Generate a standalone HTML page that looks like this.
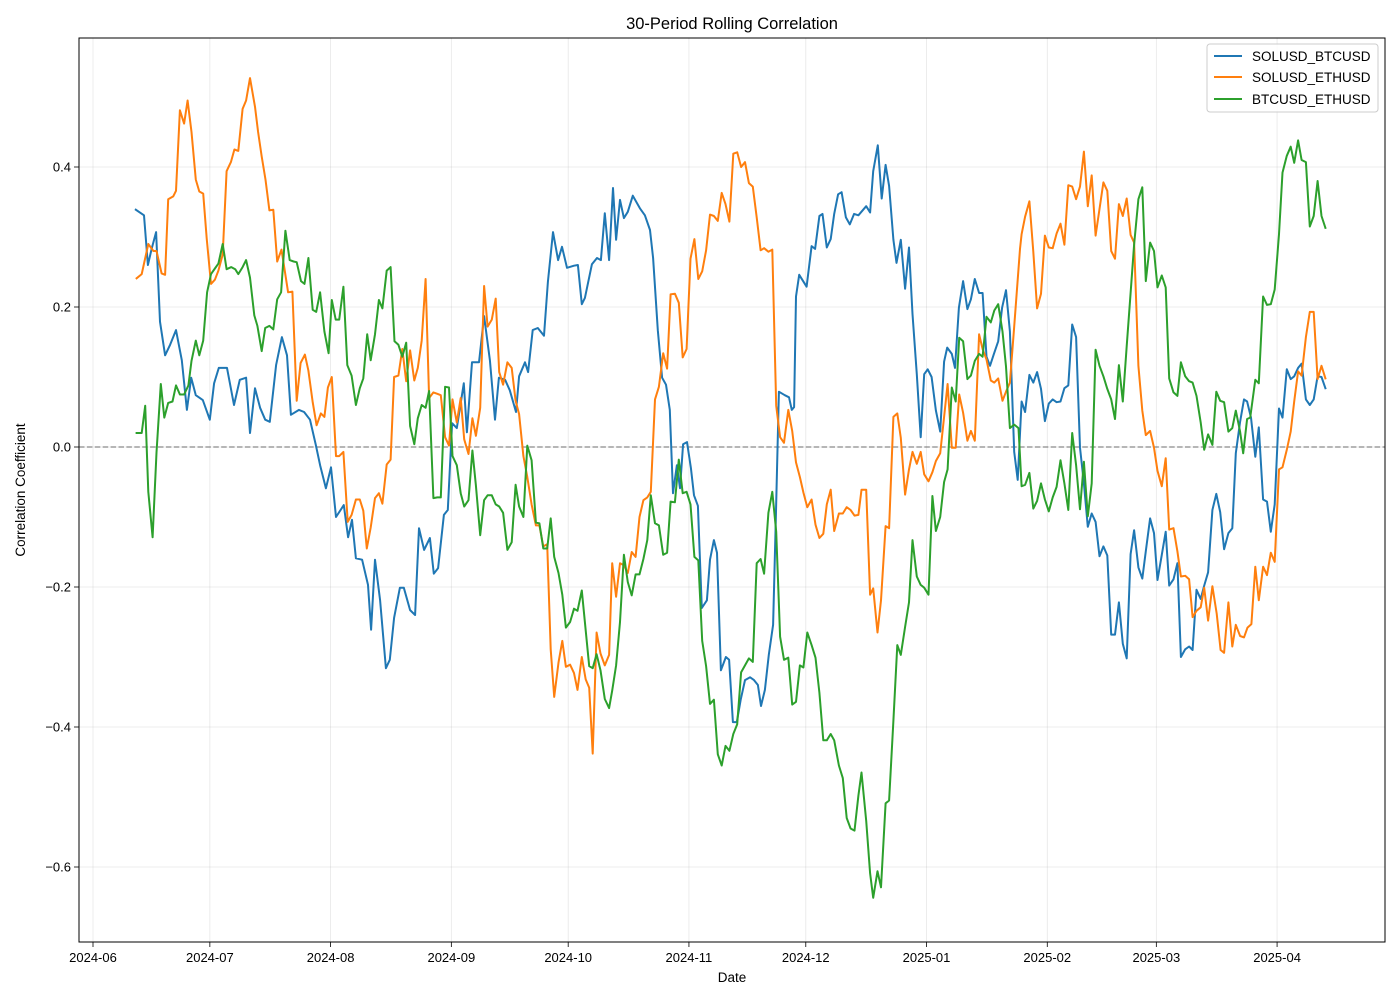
<!DOCTYPE html>
<html><head><meta charset="utf-8"><title>30-Period Rolling Correlation</title>
<style>
html,body{margin:0;padding:0;background:#fff;}
svg{display:block;font-family:"Liberation Sans","DejaVu Sans",sans-serif;}
</style></head>
<body>
<svg id="chart" width="1400" height="1000" viewBox="0 0 1400 1000" xmlns="http://www.w3.org/2000/svg">
<rect x="0" y="0" width="1400" height="1000" fill="#fff"/>
<text x="732" y="29" text-anchor="middle" font-size="16.5" fill="#000">30-Period Rolling Correlation</text>
<g id="grid"></g>
<g id="series"></g>
<rect x="79" y="38" width="1306" height="904" fill="none" stroke="#000" stroke-width="1"/>
<g id="axes"></g>
<text x="732" y="982" text-anchor="middle" font-size="13.5">Date</text>
<text transform="translate(25,490) rotate(-90)" text-anchor="middle" font-size="13.5">Correlation Coefficient</text>
<g>
<rect x="1207" y="44" width="171" height="68" rx="3" fill="#fff" fill-opacity="0.8" stroke="#ccc"/>
<line x1="1214" y1="56" x2="1242" y2="56" stroke="#1f77b4" stroke-width="2"/>
<text x="1252" y="61" font-size="13.5">SOLUSD_BTCUSD</text>
<line x1="1214" y1="77" x2="1242" y2="77" stroke="#ff7f0e" stroke-width="2"/>
<text x="1252" y="82" font-size="13.5">SOLUSD_ETHUSD</text>
<line x1="1214" y1="99" x2="1242" y2="99" stroke="#2ca02c" stroke-width="2"/>
<text x="1252" y="104" font-size="13.5">BTCUSD_ETHUSD</text>
</g>
</svg>
<script>
// days since 2024-06-01
const xTickDays = [0,30,61,92,122,153,183,214,245,273,304];
const xTickLabels = ["2024-06","2024-07","2024-08","2024-09","2024-10","2024-11","2024-12","2025-01","2025-02","2025-03","2025-04"];
const yTicks = [0.4,0.2,0.0,-0.2,-0.4,-0.6];
const yTickLabels = ["0.4","0.2","0.0","\u22120.2","\u22120.4","\u22120.6"];

const solBtcDays = [11.0,13.1,14.1,15.1,16.2,17.2,18.5,19.8,21.3,22.8,24.1,25.2,26.4,28.2,30.0,31.1,32.3,34.4,36.2,37.7,39.3,40.3,41.6,42.9,44.2,45.4,47.0,48.5,49.8,50.8,52.9,54.2,55.7,57.2,58.3,59.8,61.1,62.4,64.4,65.5,66.5,67.5,69.1,70.6,71.4,72.4,73.7,75.2,76.2,77.3,78.8,79.8,81.4,82.7,83.7,85.0,86.5,87.5,88.6,90.1,91.1,92.2,93.4,95.2,96.0,97.3,99.1,100.4,101.9,103.2,104.2,105.8,107.0,108.6,109.4,110.9,111.7,112.9,114.2,115.8,116.8,118.1,119.4,120.4,121.7,123.5,124.5,125.5,126.3,128.1,129.4,130.4,131.4,132.5,133.5,134.3,135.3,136.3,137.3,138.6,140.4,141.7,143.0,143.8,145.0,146.1,147.1,148.1,148.9,149.9,150.7,151.5,152.5,153.5,154.3,155.3,156.3,157.6,158.4,159.4,160.2,161.2,162.5,163.3,164.3,165.3,166.3,167.4,168.7,169.7,170.7,171.5,172.5,173.5,174.6,175.3,176.1,177.6,178.7,179.4,180.0,180.5,181.3,183.2,184.5,185.4,186.5,187.3,188.4,189.4,190.3,191.3,192.2,193.3,194.3,195.4,196.5,198.5,199.5,200.3,201.5,202.5,203.5,204.4,205.5,206.3,207.4,208.5,209.5,210.4,211.5,212.5,213.4,214.3,215.3,216.4,217.5,218.5,219.3,220.5,221.3,222.3,223.4,224.5,225.4,226.4,227.5,228.4,229.4,230.3,231.3,232.4,233.4,234.4,235.4,236.5,237.4,238.4,239.3,240.4,241.4,242.4,243.4,244.4,245.4,246.4,247.4,248.4,249.4,250.4,251.4,252.4,253.4,254.4,255.4,256.4,257.4,258.4,259.4,260.4,261.4,262.4,263.4,264.4,265.4,266.4,267.3,268.4,269.4,270.3,271.4,272.4,273.3,274.4,275.4,276.3,277.4,278.4,279.3,280.4,281.4,282.3,283.3,284.4,285.3,286.3,287.4,288.4,289.4,290.4,291.5,292.5,293.4,294.5,295.5,296.3,297.3,298.4,299.3,300.4,301.4,302.4,303.4,304.5,305.4,306.5,307.5,308.4,309.4,310.3,311.4,312.4,313.4,314.4,315.4,316.4];
const solBtcVals = [0.339,0.331,0.260,0.284,0.307,0.179,0.131,0.146,0.167,0.124,0.053,0.099,0.074,0.067,0.039,0.091,0.113,0.113,0.060,0.096,0.099,0.020,0.084,0.056,0.039,0.036,0.117,0.157,0.131,0.046,0.053,0.050,0.039,0.003,-0.026,-0.059,-0.029,-0.100,-0.083,-0.129,-0.104,-0.159,-0.161,-0.197,-0.261,-0.161,-0.219,-0.316,-0.304,-0.244,-0.201,-0.201,-0.233,-0.240,-0.116,-0.147,-0.130,-0.181,-0.173,-0.097,-0.090,0.034,0.027,0.091,0.021,0.121,0.121,0.187,0.124,0.039,0.099,0.096,0.081,0.050,0.101,0.121,0.107,0.167,0.170,0.159,0.236,0.307,0.267,0.286,0.256,0.259,0.260,0.204,0.213,0.261,0.270,0.267,0.334,0.267,0.370,0.296,0.353,0.327,0.336,0.359,0.341,0.331,0.310,0.270,0.167,0.099,0.089,0.053,-0.066,-0.026,-0.059,0.004,0.007,-0.030,-0.069,-0.084,-0.230,-0.219,-0.161,-0.133,-0.151,-0.319,-0.300,-0.304,-0.393,-0.393,-0.361,-0.333,-0.329,-0.333,-0.340,-0.370,-0.347,-0.297,-0.254,-0.104,0.079,0.074,0.071,0.053,0.057,0.215,0.246,0.229,0.287,0.283,0.330,0.333,0.285,0.297,0.333,0.361,0.364,0.328,0.318,0.333,0.331,0.344,0.335,0.394,0.431,0.355,0.403,0.373,0.296,0.263,0.296,0.226,0.285,0.190,0.104,0.014,0.104,0.111,0.100,0.052,0.022,0.122,0.142,0.133,0.113,0.199,0.237,0.197,0.211,0.240,0.220,0.220,0.129,0.116,0.133,0.151,0.199,0.224,0.165,-0.007,-0.047,0.065,0.050,0.103,0.092,0.107,0.083,0.037,0.062,0.068,0.064,0.065,0.084,0.088,0.175,0.157,-0.001,-0.052,-0.114,-0.095,-0.107,-0.156,-0.142,-0.155,-0.268,-0.268,-0.222,-0.281,-0.302,-0.153,-0.119,-0.172,-0.188,-0.149,-0.102,-0.123,-0.190,-0.154,-0.121,-0.198,-0.189,-0.166,-0.300,-0.289,-0.285,-0.290,-0.204,-0.217,-0.198,-0.179,-0.090,-0.067,-0.093,-0.146,-0.123,-0.116,-0.009,0.036,0.068,0.065,0.042,-0.014,0.028,-0.075,-0.078,-0.121,-0.082,0.055,0.042,0.111,0.097,0.101,0.113,0.119,0.068,0.060,0.068,0.101,0.100,0.084];

const solEthDays = [11.2,12.5,14.2,15.5,16.3,17.6,18.5,19.3,20.6,21.3,22.3,23.4,24.3,25.3,26.4,27.3,28.3,29.2,30.3,31.3,32.2,33.3,34.3,35.4,36.3,37.3,38.4,39.3,40.3,41.6,42.4,43.3,44.3,45.3,46.3,47.3,48.4,50.1,51.2,52.3,53.3,54.4,55.3,56.4,57.4,58.5,59.4,60.3,61.3,62.4,63.2,64.3,65.4,66.4,67.5,68.5,69.4,70.3,71.3,72.4,73.4,74.3,75.4,76.4,77.3,78.4,79.4,80.4,81.4,82.5,83.4,84.4,85.4,86.3,87.4,88.4,89.3,90.4,91.4,92.3,93.4,94.4,95.3,96.4,97.4,98.3,99.4,100.4,101.3,102.4,103.4,104.3,105.3,106.4,107.5,108.5,109.4,110.5,111.5,112.6,113.7,114.6,115.6,116.6,117.5,118.4,119.5,120.5,121.4,122.5,123.5,124.4,125.5,126.5,127.4,128.3,129.3,130.3,131.4,132.5,133.3,134.3,135.3,136.3,137.3,138.3,139.3,140.3,141.3,142.3,143.2,144.3,145.3,146.4,147.4,148.3,149.4,150.4,151.4,152.4,153.4,154.4,155.4,156.4,157.4,158.4,159.4,160.4,161.4,162.4,163.4,164.4,165.4,166.4,167.4,168.4,169.4,170.4,171.4,172.3,173.4,174.4,175.4,176.4,177.4,178.5,179.5,180.5,181.5,182.4,183.4,184.5,185.5,186.5,187.5,188.4,189.4,190.3,191.5,192.5,193.5,194.5,195.5,196.5,197.3,198.5,199.5,200.3,201.4,202.3,203.5,204.4,205.5,206.5,207.4,208.5,209.5,210.4,211.5,212.5,213.4,214.5,215.5,216.4,217.5,218.5,219.4,220.5,221.5,222.4,223.4,224.5,225.4,226.4,227.5,228.4,229.4,230.5,231.4,232.4,233.5,234.4,235.4,236.5,238.0,238.4,239.3,240.4,241.4,242.4,243.4,244.4,245.4,246.4,247.4,248.4,249.4,250.4,251.4,252.4,253.4,254.4,255.4,256.4,257.4,258.4,259.4,260.4,261.4,262.4,263.4,264.4,265.4,266.4,267.3,268.4,269.4,270.3,271.4,272.4,273.3,274.4,275.4,276.3,277.4,278.4,279.3,280.4,281.4,282.3,283.3,284.4,285.3,286.3,287.4,288.5,289.5,290.4,291.5,292.5,293.4,294.5,295.5,296.4,297.4,298.4,299.3,300.4,301.4,302.4,303.4,304.5,305.4,306.5,307.5,308.4,309.4,310.3,311.4,312.4,313.4,314.4,315.4,316.4];
const solEthVals = [0.241,0.247,0.290,0.280,0.280,0.248,0.246,0.354,0.358,0.366,0.481,0.462,0.495,0.450,0.382,0.365,0.362,0.298,0.233,0.239,0.252,0.275,0.394,0.407,0.425,0.423,0.483,0.495,0.527,0.486,0.450,0.415,0.382,0.338,0.339,0.265,0.282,0.221,0.222,0.066,0.120,0.132,0.109,0.064,0.031,0.048,0.043,0.085,0.100,-0.013,-0.013,-0.007,-0.107,-0.097,-0.075,-0.075,-0.091,-0.145,-0.115,-0.073,-0.066,-0.081,-0.025,-0.018,0.100,0.102,0.140,0.094,0.138,0.095,0.113,0.152,0.240,0.070,0.078,0.076,0.074,0.014,0.002,0.068,0.035,0.070,0.011,-0.010,0.041,0.016,0.056,0.230,0.172,0.182,0.212,0.107,0.089,0.121,0.113,0.066,0.047,-0.013,-0.043,-0.082,-0.112,-0.112,-0.142,-0.139,-0.289,-0.357,-0.308,-0.277,-0.314,-0.311,-0.323,-0.347,-0.300,-0.332,-0.344,-0.438,-0.265,-0.295,-0.312,-0.297,-0.166,-0.214,-0.166,-0.169,-0.180,-0.150,-0.157,-0.100,-0.076,-0.072,-0.064,0.068,0.086,0.134,0.112,0.218,0.219,0.206,0.128,0.140,0.269,0.297,0.240,0.251,0.281,0.332,0.330,0.323,0.363,0.347,0.322,0.419,0.421,0.400,0.407,0.377,0.372,0.328,0.281,0.284,0.279,0.282,0.059,0.014,0.006,0.053,0.023,-0.022,-0.043,-0.065,-0.086,-0.075,-0.111,-0.130,-0.124,-0.082,-0.061,-0.120,-0.095,-0.095,-0.086,-0.090,-0.098,-0.097,-0.061,-0.061,-0.211,-0.202,-0.265,-0.219,-0.113,-0.116,0.043,0.048,0.013,-0.068,-0.032,-0.007,-0.024,-0.007,-0.039,-0.049,-0.036,-0.020,-0.009,0.043,0.090,-0.001,-0.001,0.075,0.049,0.009,0.023,0.009,0.161,0.140,0.125,0.095,0.092,0.098,0.066,0.079,0.092,0.172,0.283,0.304,0.329,0.351,0.279,0.198,0.219,0.302,0.285,0.284,0.305,0.319,0.289,0.374,0.372,0.354,0.372,0.422,0.344,0.388,0.302,0.340,0.378,0.366,0.280,0.269,0.347,0.330,0.355,0.303,0.292,0.116,0.052,0.017,0.023,-0.001,-0.034,-0.056,-0.016,-0.118,-0.116,-0.149,-0.185,-0.184,-0.189,-0.243,-0.234,-0.229,-0.201,-0.248,-0.199,-0.238,-0.290,-0.294,-0.222,-0.285,-0.254,-0.270,-0.272,-0.258,-0.253,-0.171,-0.219,-0.171,-0.183,-0.151,-0.164,-0.032,-0.029,-0.004,0.022,0.065,0.108,0.102,0.157,0.193,0.193,0.097,0.116,0.098];

const btcEthDays = [11.2,12.5,13.4,14.2,15.3,16.3,17.4,18.3,19.3,20.4,21.3,22.3,23.4,24.5,25.3,26.4,27.3,28.3,29.3,30.3,31.3,32.2,33.3,34.3,35.5,36.5,37.3,38.4,39.3,40.3,41.4,42.2,43.3,44.2,45.3,46.3,47.3,48.3,49.4,50.5,51.5,52.3,53.4,54.3,55.3,56.4,57.3,58.3,59.4,60.5,61.3,62.3,63.2,64.3,65.3,66.4,67.5,68.5,69.4,70.4,71.3,72.4,73.4,74.3,75.4,76.4,77.4,78.4,79.4,80.4,81.4,82.5,83.4,84.4,85.4,86.3,87.4,88.4,89.3,90.4,91.4,92.3,93.4,94.4,95.3,96.4,97.4,98.3,99.4,100.4,101.3,102.4,103.4,104.3,105.3,106.4,107.5,108.5,109.4,110.5,111.5,112.6,113.7,114.6,115.6,116.6,117.5,118.4,119.5,120.5,121.4,122.5,123.5,124.4,125.5,126.5,127.4,128.3,129.3,130.3,131.4,132.5,133.3,134.3,135.3,136.3,137.3,138.3,139.3,140.3,141.3,142.3,143.2,144.3,145.3,146.4,147.4,148.3,149.4,150.4,151.4,152.4,153.4,154.4,155.4,156.4,157.4,158.4,159.4,160.4,161.4,162.4,163.4,164.4,165.4,166.4,167.4,168.4,169.4,170.4,171.4,172.3,173.4,174.4,175.4,176.4,177.4,178.5,179.5,180.5,181.5,182.4,183.4,184.5,185.5,186.5,187.5,188.4,189.4,190.3,191.5,192.5,193.5,194.5,195.5,196.5,197.3,198.5,199.5,200.3,201.4,202.3,203.5,204.4,205.5,206.5,207.4,208.5,209.5,210.4,211.5,212.5,213.4,214.5,215.5,216.4,217.5,218.5,219.4,220.5,221.5,222.4,223.4,224.5,225.4,226.4,227.5,228.4,229.4,230.5,231.4,232.4,233.5,234.4,235.4,236.5,237.6,238.4,239.3,240.4,241.4,242.4,243.4,244.4,245.4,246.4,247.4,248.4,249.4,250.4,251.4,252.4,253.4,254.4,255.4,256.4,257.4,258.4,259.4,260.4,261.4,262.4,263.4,264.4,265.4,266.4,267.3,268.4,269.4,270.3,271.4,272.4,273.3,274.4,275.4,276.3,277.4,278.4,279.3,280.4,281.4,282.3,283.3,284.4,285.3,286.3,287.4,288.4,289.4,290.4,291.5,292.5,293.4,294.5,295.3,296.3,297.1,298.4,299.3,300.4,301.4,302.4,303.4,304.5,305.4,306.5,307.5,308.4,309.4,310.3,311.4,312.4,313.4,314.4,315.4,316.4];
const btcEthVals = [0.020,0.020,0.059,-0.064,-0.129,-0.008,0.090,0.042,0.063,0.065,0.088,0.075,0.075,0.088,0.123,0.152,0.131,0.152,0.221,0.247,0.255,0.262,0.290,0.254,0.257,0.254,0.247,0.257,0.267,0.242,0.188,0.173,0.137,0.170,0.173,0.168,0.211,0.221,0.309,0.267,0.265,0.264,0.237,0.233,0.270,0.196,0.193,0.221,0.165,0.134,0.210,0.182,0.182,0.229,0.117,0.102,0.060,0.084,0.098,0.161,0.124,0.161,0.210,0.198,0.252,0.257,0.151,0.146,0.129,0.149,0.030,0.004,0.041,0.060,0.056,0.080,-0.073,-0.072,-0.072,0.086,0.085,-0.013,-0.026,-0.066,-0.085,-0.076,-0.005,-0.055,-0.126,-0.076,-0.069,-0.069,-0.082,-0.085,-0.094,-0.147,-0.136,-0.054,-0.085,-0.100,0.002,-0.019,-0.108,-0.109,-0.145,-0.145,-0.102,-0.157,-0.180,-0.211,-0.258,-0.250,-0.231,-0.234,-0.205,-0.262,-0.313,-0.316,-0.296,-0.319,-0.360,-0.373,-0.348,-0.312,-0.250,-0.154,-0.193,-0.212,-0.182,-0.182,-0.160,-0.133,-0.069,-0.109,-0.112,-0.154,-0.151,-0.078,-0.079,-0.018,-0.066,-0.064,-0.082,-0.157,-0.162,-0.277,-0.313,-0.367,-0.361,-0.439,-0.455,-0.427,-0.434,-0.410,-0.396,-0.322,-0.312,-0.302,-0.307,-0.166,-0.160,-0.181,-0.094,-0.064,-0.121,-0.271,-0.304,-0.301,-0.368,-0.364,-0.312,-0.315,-0.265,-0.283,-0.301,-0.351,-0.419,-0.419,-0.410,-0.419,-0.455,-0.473,-0.530,-0.545,-0.548,-0.498,-0.465,-0.534,-0.609,-0.644,-0.606,-0.629,-0.509,-0.505,-0.391,-0.283,-0.297,-0.257,-0.222,-0.133,-0.185,-0.197,-0.201,-0.211,-0.070,-0.120,-0.100,-0.050,-0.032,0.085,0.065,0.156,0.151,0.097,0.102,0.123,0.133,0.129,0.186,0.178,0.195,0.204,0.165,0.115,0.027,0.032,0.027,-0.056,-0.054,-0.037,-0.088,-0.077,-0.052,-0.075,-0.092,-0.072,-0.057,-0.019,-0.052,-0.090,0.020,-0.026,-0.089,-0.021,-0.099,-0.052,0.139,0.116,0.101,0.083,0.068,0.040,0.117,0.065,0.144,0.220,0.289,0.354,0.371,0.237,0.292,0.280,0.228,0.245,0.228,0.098,0.078,0.073,0.121,0.101,0.094,0.092,0.073,0.035,-0.004,0.018,0.003,0.079,0.066,0.064,0.022,0.027,0.052,0.022,-0.009,0.040,0.042,0.096,0.091,0.215,0.203,0.204,0.225,0.304,0.392,0.416,0.429,0.406,0.438,0.410,0.407,0.315,0.330,0.380,0.330,0.313];

const NS = "http://www.w3.org/2000/svg";
function xScale(d){ return 93 + d*3.895; }
function yScale(v){ return 447 - v*700; }
function mk(tag, attrs, parent){ const e=document.createElementNS(NS,tag); for(const k in attrs) e.setAttribute(k, attrs[k]); parent.appendChild(e); return e; }

const grid = document.getElementById('grid');
const axes = document.getElementById('axes');
const series = document.getElementById('series');

xTickDays.forEach((d,i)=>{
  const x = xScale(d);
  const gl = mk('line',{x1:x,y1:38,x2:x,y2:942,stroke:'#b0b0b0','stroke-opacity':0.3,'stroke-width':0.8},grid);
  
  
  const tk = mk('line',{x1:x,y1:942,x2:x,y2:947,stroke:'#000','stroke-width':0.8},axes);
  
  
  const t = mk('text',{x:x,y:962,'text-anchor':'middle','font-size':13},axes);
  t.textContent = xTickLabels[i];
  
  
});
yTicks.forEach((v,i)=>{
  const y = yScale(v);
  const gl = mk('line',{x1:79,y1:y,x2:1385,y2:y,stroke:'#b0b0b0','stroke-opacity':0.3,'stroke-width':0.8},grid);
  
  
  const tk = mk('line',{x1:74,y1:y,x2:79,y2:y,stroke:'#000','stroke-width':0.8},axes);
  
  
  const t = mk('text',{x:71,y:y+4.5,'text-anchor':'end','font-size':13},axes);
  t.textContent = yTickLabels[i];
  
  
});
const zl = mk('line',{x1:79,y1:yScale(0),x2:1385,y2:yScale(0),stroke:'#808080','stroke-opacity':0.75,'stroke-width':1.5,'stroke-dasharray':'5.5,2.4'},grid);



function drawSeries(days, vals, color, name){
  const pts = days.map((d,i)=> xScale(d).toFixed(1)+','+yScale(vals[i]).toFixed(1)).join(' ');
  const p = mk('polyline',{points:pts,fill:'none',stroke:color,'stroke-width':2,'stroke-linejoin':'round','stroke-linecap':'square'},series);
  
  
}
drawSeries(solBtcDays, solBtcVals, '#1f77b4', 'line-solusd-btcusd');
drawSeries(solEthDays, solEthVals, '#ff7f0e', 'line-solusd-ethusd');
drawSeries(btcEthDays, btcEthVals, '#2ca02c', 'line-btcusd-ethusd');
</script>
</body></html>
